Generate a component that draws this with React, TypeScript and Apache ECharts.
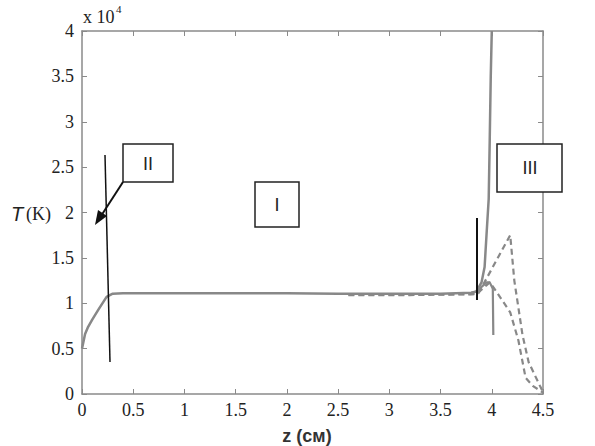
import React, { useEffect, useRef } from "react";
import * as echarts from "echarts";

const xTicks = [0, 0.5, 1, 1.5, 2, 2.5, 3, 3.5, 4, 4.5];
const yTickLabels = ["0", "0.5", "1", "1.5", "2", "2.5", "3", "3.5", "4"];

const mainZ = [0, 0.03, 0.06, 0.1, 0.16, 0.24, 0.3, 0.4, 0.5, 1, 1.5, 2, 2.5, 3, 3.5, 3.8, 3.85, 3.9, 3.93, 3.95, 3.97, 3.98, 3.99, 4.0];
const mainT = [5000, 6600, 7400, 8200, 9300, 10700, 11050, 11100, 11100, 11100, 11100, 11100, 11050, 11050, 11050, 11150, 11300, 12300, 14000, 17800, 21500, 28000, 35000, 40000];

const dropZ = [3.8, 3.85, 3.9, 3.95, 3.98, 4.01, 4.015];
const dropT = [11150, 11300, 11800, 12300, 12300, 11600, 6500];

const dashAZ = [2.6, 3.2, 3.8, 3.87, 4.18, 4.22, 4.3, 4.36, 4.47, 4.5];
const dashAT = [10950, 10950, 11000, 11100, 17500, 12500, 6500, 3500, 900, 200];

const dashBZ = [2.6, 3.2, 3.85, 3.95, 3.98, 4.02, 4.18, 4.26, 4.33, 4.4, 4.5];
const dashBT = [10900, 10900, 11000, 12000, 12300, 11700, 9000, 5900, 1800, 900, 150];

const pairs = (xs: number[], ys: number[]) => xs.map((x, i) => [x, ys[i]]);

export default function App() {
  const ref = useRef<HTMLDivElement>(null);
  useEffect(() => {
    if (!ref.current) return;
    const chart = echarts.init(ref.current, null, { renderer: "svg" });
    const axisColor = "#8a8a8a";
    const serif = "Liberation Serif";
    const sans = "Liberation Sans";
    const curveColor = "#888888";
    const labelStyle = { color: "#222", fontFamily: serif, fontSize: 18 };
    const tick = { show: true, inside: true, length: 5, lineStyle: { color: axisColor, width: 1 } };
    chart.setOption({
      animation: false,
      backgroundColor: "#fff",
      grid: { left: 82, right: 52, top: 31, bottom: 52, containLabel: false },
      xAxis: [
        {
          type: "value",
          min: 0,
          max: 4.5,
          interval: 0.5,
          axisLine: { onZero: false, lineStyle: { color: axisColor, width: 1.5 } },
          axisTick: tick,
          axisLabel: { ...labelStyle, margin: 7, formatter: (v: number) => String(xTicks.find((t) => Math.abs(t - v) < 1e-6) ?? v) },
          splitLine: { show: false },
        },
        {
          type: "value",
          position: "top",
          min: 0,
          max: 4.5,
          interval: 0.5,
          axisLine: { onZero: false, lineStyle: { color: axisColor, width: 1.5 } },
          axisTick: tick,
          axisLabel: { show: false },
          splitLine: { show: false },
        },
      ],
      yAxis: [
        {
          type: "value",
          position: "left",
          min: 0,
          max: 40000,
          interval: 5000,
          axisLine: { show: true, onZero: false, lineStyle: { color: axisColor, width: 1.5 } },
          axisTick: tick,
          axisLabel: { ...labelStyle, margin: 8, formatter: (v: number) => yTickLabels[Math.round(v / 5000)] },
          splitLine: { show: false },
        },
        {
          type: "value",
          position: "right",
          min: 0,
          max: 40000,
          interval: 5000,
          axisLine: { show: true, onZero: false, lineStyle: { color: axisColor, width: 1.5 } },
          axisTick: tick,
          axisLabel: { show: false },
          splitLine: { show: false },
        },
      ],
      series: [
        {
          type: "line",
          data: pairs(dashAZ, dashAT),
          showSymbol: false,
          lineStyle: { color: curveColor, width: 2.2, type: [6, 4] },
          z: 2,
        },
        {
          type: "line",
          data: pairs(dashBZ, dashBT),
          showSymbol: false,
          lineStyle: { color: curveColor, width: 2.2, type: [6, 4] },
          z: 2,
        },
        {
          type: "line",
          data: pairs(dropZ, dropT),
          showSymbol: false,
          lineStyle: { color: curveColor, width: 2.2 },
          z: 3,
        },
        {
          type: "line",
          data: pairs(mainZ, mainT),
          showSymbol: false,
          lineStyle: { color: curveColor, width: 2.5 },
          z: 3,
        },
      ],
      graphic: [
        { type: "text", x: 83, y: 8, style: { text: "x 10", font: `18px "${serif}"`, fill: "#222" }, z: 10 },
        { type: "text", x: 116, y: 3, style: { text: "4", font: `11px "${serif}"`, fill: "#222" }, z: 10 },
        { type: "text", x: 11, y: 204, style: { text: "T", font: `italic 20px "${sans}"`, fill: "#222" }, z: 10 },
        { type: "text", x: 26, y: 205, style: { text: "(K)", font: `18px "${serif}"`, fill: "#222" }, z: 10 },
        { type: "text", x: 307, y: 436, style: { text: "z (см)", font: `bold 18px "${sans}"`, fill: "#333", align: "center", verticalAlign: "middle" }, z: 10 },
        { type: "rect", shape: { x: 255, y: 182, width: 44, height: 45 }, style: { fill: "#fff", stroke: "#222", lineWidth: 1.5 }, z: 10 },
        { type: "text", x: 277, y: 205, style: { text: "I", font: `18px "${sans}"`, fill: "#222", align: "center", verticalAlign: "middle" }, z: 11 },
        { type: "rect", shape: { x: 123, y: 144, width: 50, height: 38 }, style: { fill: "#fff", stroke: "#222", lineWidth: 1.5 }, z: 10 },
        { type: "text", x: 148, y: 164, style: { text: "II", font: `18px "${sans}"`, fill: "#222", align: "center", verticalAlign: "middle" }, z: 11 },
        { type: "rect", shape: { x: 497, y: 144, width: 65, height: 48 }, style: { fill: "#fff", stroke: "#222", lineWidth: 1.5 }, z: 10 },
        { type: "text", x: 530, y: 168, style: { text: "III", font: `18px "${sans}"`, fill: "#222", align: "center", verticalAlign: "middle" }, z: 11 },
        { type: "line", shape: { x1: 123, y1: 182, x2: 101, y2: 216 }, style: { stroke: "#111", lineWidth: 2 }, z: 10 },
        { type: "polygon", shape: { points: [[95, 225], [107, 216], [98, 210]] }, style: { fill: "#111" }, z: 10 },
        { type: "line", shape: { x1: 105, y1: 155, x2: 110, y2: 362 }, style: { stroke: "#111", lineWidth: 1.5 }, z: 10 },
        { type: "line", shape: { x1: 477, y1: 218, x2: 477, y2: 300 }, style: { stroke: "#111", lineWidth: 2 }, z: 10 },
      ],
    });
    return () => chart.dispose();
  }, []);
  return <div ref={ref} style={{ width: 595, height: 446, position: "absolute", left: 0, top: 0 }} />;
}
